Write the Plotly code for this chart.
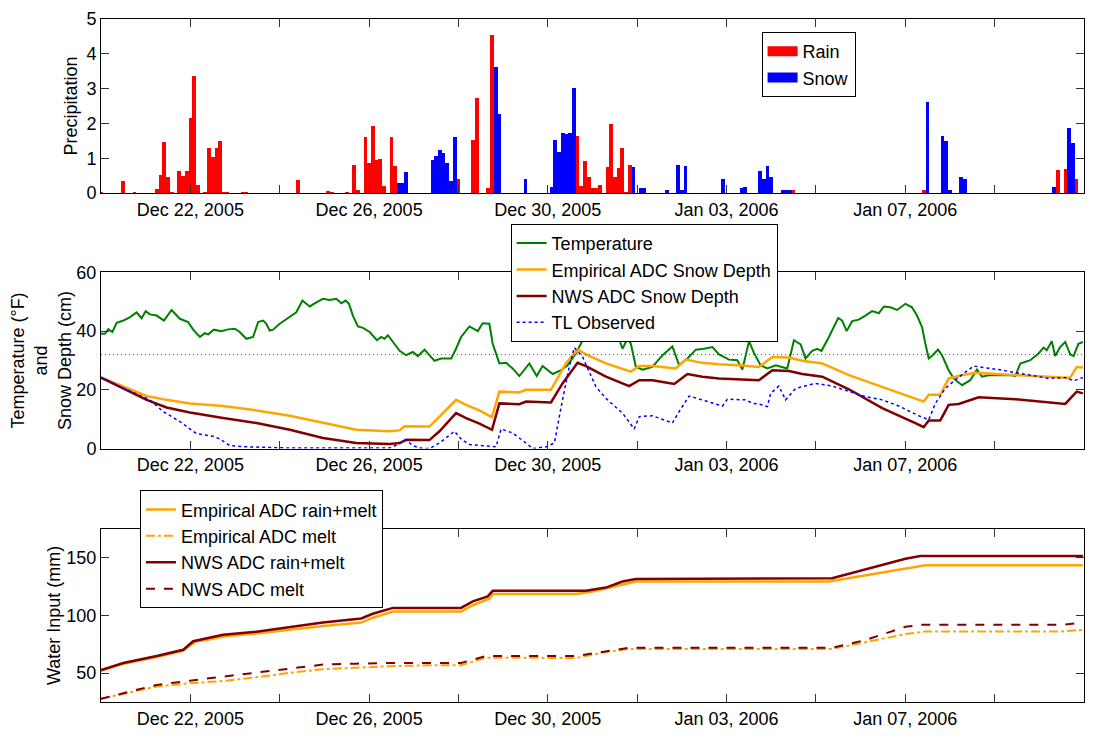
import pandas as pd
import plotly.graph_objects as go
from plotly.subplots import make_subplots

# ---------------- data ----------------
START = pd.Timestamp("2005-12-20 00:00")
END = pd.Timestamp("2006-01-11 00:00")
STEP_H = 2  # precipitation time step (hours)

# precipitation: index of 2-hour step since START and amount
rain_idx = [0, 6, 9, 15, 16, 17, 18, 19, 21, 22, 23, 24, 25, 26, 28, 29, 30, 31, 32, 33, 34, 38, 39,
            53, 61, 62, 66, 68, 69, 71, 72, 73, 74, 75, 76, 78, 79, 96, 100, 101, 104, 105,
            128, 129, 130, 131, 132, 133, 134, 136, 137, 138, 139, 140, 141, 142, 186, 221, 257, 259, 262]
rain_val = [0.03, 0.35, 0.03, 0.11, 0.52, 1.47, 0.45, 0.02, 0.63, 0.48, 0.65, 2.17, 3.35, 0.23, 0.02, 1.30, 1.04, 1.30, 1.50, 0.02, 0.02, 0.02, 0.02,
            0.37, 0.05, 0.02, 0.03, 0.82, 0.08, 1.61, 0.88, 1.92, 0.95, 0.98, 0.20, 1.61, 0.77, 0.41, 1.52, 2.74, 0.16, 4.54,
            1.63, 0.21, 0.91, 0.45, 0.15, 0.15, 0.23, 0.74, 2.00, 0.45, 0.71, 1.30, 0.04, 0.80, 0.09, 0.09, 0.66, 0.68, 0.41]
snow_idx = [80, 81, 82, 89, 90, 91, 92, 93, 94, 95, 106, 107, 114, 121, 122, 123, 124, 125, 126, 127,
            143, 145, 146, 152, 155, 156, 157, 167, 172, 173, 177, 178, 179, 180, 183, 184, 185,
            222, 226, 227, 228, 231, 232, 256, 260, 261]
snow_val = [0.28, 0.28, 0.60, 0.94, 1.07, 1.25, 1.15, 0.87, 0.35, 1.61, 3.61, 2.28, 0.40, 0.17, 1.52, 1.19, 1.72, 1.70, 1.72, 3.01,
            0.76, 0.15, 0.15, 0.09, 0.82, 0.09, 0.77, 0.41, 0.15, 0.17, 0.63, 0.41, 0.77, 0.45, 0.09, 0.09, 0.09,
            2.62, 1.64, 1.50, 0.09, 0.46, 0.42, 0.17, 1.87, 1.45]

# temperature (hours since START, deg F)
temp_h = [0, 2.1, 3.9, 6.1, 8.4, 12.0, 15.6, 19.1, 21.8, 24.0, 26.3, 29.9, 33.8, 37.9, 42.4, 46.8, 49.5, 53.1, 55.8, 57.6,
          60.6, 64.7, 68.3, 71.9, 74.5, 78.1, 81.7, 84.4, 87.1, 88.8, 90.6, 92.4, 96.0, 101.4, 104.9, 108.2, 112.1, 115.7,
          119.2, 122.8, 126.4, 129.1, 131.4, 133.2, 135.3, 138.0, 140.7, 144.3, 148.2, 150.5, 152.3, 154.1, 157.7, 160.4,
          163.9, 167.5, 170.2, 173.8, 176.4, 179.1, 182.7, 188.1, 190.7, 193.4, 197.9, 202.4, 205.0, 208.6, 210.4, 214.0,
          217.6, 221.1, 224.7, 230.1, 234.0, 237.2, 242.6, 247.1, 250.6, 255.1, 258.7, 264.0, 268.5, 273.0, 278.3, 280.1,
          282.8, 284.6, 287.3, 290.9, 296.2, 301.6, 306.9, 310.5, 315.0, 319.5, 323.9, 328.4, 332.0, 337.3, 341.8, 344.5,
          348.1, 350.7, 354.3, 357.9, 362.4, 365.9, 368.6, 372.2, 375.8, 378.4, 382.0, 384.7, 387.0, 391.0, 396.0, 398.1,
          400.5, 403.5, 407.0, 410.6, 414.2, 417.8, 420.5, 424.0, 427.6, 432.1, 435.6, 438.3, 441.0, 442.8, 444.6, 446.7,
          449.6, 451.7, 455.3, 458.0, 462.5, 466.9, 470.5, 473.2, 476.8, 482.1, 489.3, 491.1, 493.8, 499.1, 503.6, 506.3,
          508.0, 510.7, 512.5, 515.2, 517.9, 520.6, 522.4, 525.0, 527.4]
temp_f = [39.1, 39.1, 40.7, 39.7, 42.8, 43.6, 44.8, 46.4, 44.4, 46.8, 45.7, 45.3, 43.6, 47.2, 44.2, 43.1, 40.5, 38.0, 39.3, 38.9,
          40.5, 40.0, 40.6, 40.8, 39.7, 37.4, 38.0, 43.1, 43.6, 42.5, 40.2, 40.5, 42.5, 44.8, 46.4, 50.4, 48.4, 49.8,
          51.0, 50.6, 51.0, 49.5, 50.4, 49.3, 45.3, 41.6, 41.1, 39.7, 36.9, 38.0, 37.4, 38.6, 35.5, 33.3,
          31.8, 32.9, 31.5, 33.7, 31.8, 29.9, 30.7, 30.7, 34.0, 38.0, 41.6, 40.0, 42.7, 42.5, 35.7, 29.0,
          29.2, 27.3, 24.7, 29.0, 24.7, 28.1, 25.4, 26.7, 28.4, 32.4, 36.9, 37.4, 39.1, 38.0, 37.4, 34.0,
          37.4, 35.7, 27.8, 26.9, 27.8, 31.8, 34.8, 28.4, 30.7, 33.7, 34.0, 34.6, 32.1, 30.3, 30.1, 26.9,
          36.6, 32.6, 28.4, 27.3, 28.4, 27.8, 27.3, 36.9, 35.5, 30.7, 33.3, 34.0, 33.3, 38.0, 44.5, 43.6,
          40.0, 43.4, 43.9, 45.3, 46.8, 46.1, 48.4, 48.1, 47.2, 49.3, 48.1, 45.3, 41.4, 35.7, 30.7, 31.8,
          33.7, 31.8, 26.7, 23.9, 21.6, 23.3, 26.9, 24.5, 25.0, 25.0, 25.0, 24.7, 29.0, 30.1, 32.4, 34.4,
          33.5, 36.6, 31.5, 34.6, 36.3, 32.1, 31.5, 35.7, 36.3]
FREEZING_F = 32

# snow depth (cm)
emp_sd_h = [0, 12.0, 24.5, 35.2, 47.7, 65.6, 83.5, 101.4, 119.2, 137.1, 155.0, 160.4, 163.0, 176.4, 181.8, 190.7, 196.1,
            203.3, 210.0, 214.0, 224.7, 228.3, 241.7, 249.7, 256.0, 260.5, 271.2, 284.6, 289.1, 296.2, 308.7, 314.1,
            323.0, 332.0, 342.7, 353.4, 360.6, 369.5, 376.7, 387.4, 401.7, 419.6, 437.4, 441.9, 444.6, 450.8, 455.3,
            462.5, 469.6, 491.1, 517.9, 520.6, 524.1, 527.4]
emp_sd = [24.2, 21.1, 17.9, 16.6, 15.4, 14.5, 13.0, 11.2, 8.7, 6.4, 5.9, 6.2, 7.6, 7.5, 10.9, 16.6, 14.9,
          13.0, 10.7, 19.4, 19.1, 20.0, 20.0, 29.0, 33.7, 32.1, 29.0, 26.2, 28.1, 28.1, 27.3, 30.3,
          29.2, 28.7, 28.4, 27.8, 31.2, 31.0, 29.9, 29.0, 25.0, 20.9, 16.8, 16.0, 18.3, 18.3, 23.9,
          25.0, 25.8, 25.0, 24.1, 24.2, 27.8, 27.6]
nws_sd_h = [0, 12.0, 24.5, 35.2, 47.7, 65.6, 83.5, 101.4, 119.2, 137.1, 155.0, 160.4, 163.9, 176.4, 181.8, 190.7, 196.1,
            203.3, 210.0, 214.0, 224.7, 228.3, 241.7, 247.9, 256.0, 260.5, 271.2, 283.7, 289.1, 296.2, 307.9, 315.0,
            323.0, 332.0, 342.7, 353.4, 360.6, 369.5, 376.7, 387.4, 401.7, 419.6, 437.4, 441.9, 444.6, 450.8, 455.3,
            460.7, 471.4, 491.1, 517.9, 524.1, 527.4]
nws_sd = [24.2, 20.5, 16.6, 14.0, 12.3, 10.4, 8.7, 6.4, 3.6, 1.9, 1.6, 1.9, 3.0, 2.9, 5.9, 12.1, 10.4,
          8.5, 6.4, 15.4, 15.1, 16.0, 15.7, 22.2, 29.2, 28.1, 24.5, 21.3, 23.3, 23.3, 22.0, 25.4,
          24.5, 23.9, 23.7, 23.3, 26.7, 26.4, 25.4, 24.5, 20.2, 13.8, 8.7, 7.3, 9.6, 9.6, 14.9,
          15.2, 17.5, 16.8, 15.2, 19.4, 18.8]
tl_h = [0, 12.0, 26.3, 33.4, 42.4, 51.3, 60.3, 63.8, 69.2, 78.1, 101.4, 155.0, 160.0, 163.9, 167.5, 171.1, 176.4, 181.8,
        189.9, 193.4, 197.9, 212.2, 214.9, 221.1, 228.3, 231.9, 239.0, 243.5, 247.9, 251.5, 254.2, 258.7, 265.8, 271.2,
        280.1, 286.4, 289.1, 296.2, 306.9, 310.5, 315.9, 323.0, 333.8, 336.4, 346.3, 350.0, 353.4, 357.9, 359.7, 364.1,
        367.7, 373.1, 383.8, 392.7, 401.7, 410.6, 419.6, 428.5, 439.2, 444.6, 448.2, 453.5, 459.8, 468.7, 482.1, 500.0,
        508.9, 517.9, 522.4, 527.4]
tl_sd = [24.2, 20.5, 16.6, 12.6, 9.2, 5.1, 4.2, 3.3, 1.0, 0.6, 0.2, 0.2, 1.5, 3.0, 1.0, 0.2, 0.0, 1.9,
         5.9, 3.3, 1.4, 0.6, 6.7, 5.3, 1.9, 0.0, 0.6, 1.9, 16.6, 27.8, 34.4, 31.2, 21.1, 17.1,
         12.1, 6.7, 10.9, 11.2, 8.7, 12.6, 17.9, 16.6, 14.5, 16.8, 16.6, 15.4, 15.2, 14.3, 18.8, 21.3,
         16.6, 20.5, 22.2, 21.3, 19.4, 17.7, 16.6, 14.5, 11.2, 9.8, 15.4, 20.5, 23.9, 28.1, 26.9, 25.0,
         23.9, 24.2, 23.1, 24.2]

# water input (mm)
emp_rm_h = [0, 12.0, 29.9, 44.2, 47.7, 51.3, 56.7, 65.6, 83.5, 101.4, 119.2, 139.8, 146.0, 156.8, 193.4, 199.7, 208.6,
            210.4, 255.1, 264.0, 278.3, 287.3, 391.0, 439.2, 442.8, 527.4]
emp_rm = [52.0, 58.2, 63.9, 69.6, 73.9, 77.6, 78.7, 81.8, 84.4, 87.5, 90.9, 93.8, 98.0, 103.4, 103.4, 108.8, 114.5,
          118.5, 118.5, 120.7, 125.9, 129.3, 129.3, 142.0, 143.5, 143.5]
nws_rm_h = [0, 12.0, 29.9, 44.2, 49.5, 65.6, 83.5, 101.4, 119.2, 139.8, 146.0, 156.8, 193.4, 199.7, 207.7, 210.4, 260.5,
            271.2, 280.1, 287.3, 383.8, 392.7, 432.1, 440.1, 527.4]
nws_rm = [52.6, 58.8, 64.8, 70.2, 77.6, 83.2, 85.8, 89.5, 93.8, 97.4, 101.4, 106.5, 106.5, 112.2, 116.5, 121.3, 121.3,
          124.1, 129.3, 131.5, 131.5, 132.1, 149.1, 151.5, 151.5]
emp_m_h = [0, 12.0, 29.9, 47.7, 65.6, 83.5, 101.4, 119.2, 137.1, 155.0, 176.4, 193.4, 206.8, 255.1, 271.2, 283.7, 392.7,
           410.6, 432.1, 442.8, 516.1, 527.4]
emp_m = [27.8, 32.1, 38.4, 41.2, 43.2, 46.4, 50.3, 53.4, 54.8, 56.0, 56.8, 56.8, 63.4, 63.1, 68.2, 71.0, 71.0,
         76.7, 83.8, 86.1, 86.1, 87.5]
nws_m_h = [0, 12.0, 29.9, 47.7, 65.6, 83.5, 101.4, 119.2, 137.1, 155.0, 193.4, 206.8, 255.1, 271.2, 283.7, 392.7, 410.6,
           432.1, 441.0, 516.1, 527.4]
nws_m = [27.8, 32.7, 39.8, 43.5, 46.9, 50.3, 54.0, 57.4, 58.2, 58.8, 58.8, 64.8, 64.8, 69.0, 71.9, 71.9, 78.7,
         90.1, 91.8, 91.8, 93.8]

# x ticks every 2 days, labelled every 4 days
tick_dates = pd.date_range(START, END, freq="2D")
label_dates = set(pd.date_range("2005-12-22", END, freq="4D"))
tick_text = [d.strftime("%b %d, %Y") if d in label_dates else "" for d in tick_dates]

# ---------------- helpers ----------------
def hrs(h):
    return START + pd.to_timedelta(h, unit="h")

def steps(i):
    return START + pd.to_timedelta([k * STEP_H for k in i], unit="h")

FONT = "Liberation Sans, Arial, Helvetica, sans-serif"
FS = 18
GREEN = "#008000"
ORANGE = "#FFA500"
MAROON = "#800000"
BLUE = "#0000FF"
RED = "#FF0000"

fig = make_subplots(rows=3, cols=1)

bar_w = STEP_H * 3600 * 1000
fig.add_trace(go.Bar(x=steps(rain_idx), y=rain_val, width=bar_w, marker=dict(color=RED, line_width=0),
                     name="Rain", showlegend=False), row=1, col=1)
fig.add_trace(go.Bar(x=steps(snow_idx), y=snow_val, width=bar_w, marker=dict(color=BLUE, line_width=0),
                     name="Snow", showlegend=False), row=1, col=1)
# legend proxies (wide swatches)
fig.add_trace(go.Scatter(x=[None], y=[None], mode="lines", line=dict(color=RED, width=16), name="Rain",
                         legend="legend"), row=1, col=1)
fig.add_trace(go.Scatter(x=[None], y=[None], mode="lines", line=dict(color=BLUE, width=16), name="Snow",
                         legend="legend"), row=1, col=1)

fig.add_trace(go.Scatter(x=hrs(temp_h), y=temp_f, mode="lines", line=dict(color=GREEN, width=2),
                         name="Temperature", legend="legend2"), row=2, col=1)
fig.add_trace(go.Scatter(x=hrs(emp_sd_h), y=emp_sd, mode="lines", line=dict(color=ORANGE, width=2.5),
                         name="Empirical ADC Snow Depth", legend="legend2"), row=2, col=1)
fig.add_trace(go.Scatter(x=hrs(nws_sd_h), y=nws_sd, mode="lines", line=dict(color=MAROON, width=2.5),
                         name="NWS ADC Snow Depth", legend="legend2"), row=2, col=1)
fig.add_trace(go.Scatter(x=hrs(tl_h), y=tl_sd, mode="lines", line=dict(color=BLUE, width=1.5, dash="dot"),
                         name="TL Observed", legend="legend2"), row=2, col=1)
fig.add_hline(y=FREEZING_F, line=dict(color="#555555", width=1, dash="1px,3px"), row=2, col=1)

fig.add_trace(go.Scatter(x=hrs(emp_rm_h), y=emp_rm, mode="lines", line=dict(color=ORANGE, width=2.5),
                         name="Empirical ADC rain+melt", legend="legend3"), row=3, col=1)
fig.add_trace(go.Scatter(x=hrs(emp_m_h), y=emp_m, mode="lines", line=dict(color=ORANGE, width=2, dash="dashdot"),
                         name="Empirical ADC melt", legend="legend3"), row=3, col=1)
fig.add_trace(go.Scatter(x=hrs(nws_rm_h), y=nws_rm, mode="lines", line=dict(color=MAROON, width=2.5),
                         name="NWS ADC rain+melt", legend="legend3"), row=3, col=1)
fig.add_trace(go.Scatter(x=hrs(nws_m_h), y=nws_m, mode="lines", line=dict(color=MAROON, width=2, dash="dash"),
                         name="NWS ADC melt", legend="legend3"), row=3, col=1)

axis_common = dict(showline=True, linecolor="black", linewidth=1, mirror="ticks", ticks="inside",
                   ticklen=8, tickcolor="#333333", showgrid=False, zeroline=False,
                   tickfont=dict(family=FONT, size=FS, color="black"))

for r, dom in zip([1, 2, 3], [[0.745, 1.0], [0.371, 0.629], [0.0, 0.2536]]):
    fig.update_xaxes(type="date", range=[START, END], tickvals=tick_dates, ticktext=tick_text,
                     row=r, col=1, **axis_common)
    fig.update_yaxes(domain=dom, row=r, col=1, **axis_common)

fig.update_yaxes(range=[0, 5], dtick=1, title=dict(text="Precipitation", standoff=4,
                 font=dict(family=FONT, size=FS, color="black")), row=1, col=1)
fig.update_yaxes(range=[0, 60], tickvals=[0, 20, 40, 60],
                 title=dict(text="Temperature (°F)<br>and<br>Snow Depth (cm)", standoff=0,
                            font=dict(family=FONT, size=FS, color="black")), row=2, col=1)
fig.update_yaxes(range=[25, 175], tickvals=[50, 100, 150],
                 title=dict(text="Water Input (mm)", standoff=1,
                            font=dict(family=FONT, size=FS, color="black")), row=3, col=1)

leg_common = dict(bgcolor="white", bordercolor="black", borderwidth=1,
                  font=dict(family=FONT, size=FS, color="black"), xanchor="left", yanchor="top",
                  tracegroupgap=0)
fig.update_layout(
    width=1094, height=740,
    margin=dict(l=101, r=9, t=12, b=38),
    plot_bgcolor="white", paper_bgcolor="white",
    barmode="overlay", bargap=0,
    font=dict(family=FONT, size=FS, color="black"),
    legend=dict(x=0.672, y=0.981, **leg_common),
    legend2=dict(x=0.4167, y=0.700, **leg_common),
    legend3=dict(x=0.0396, y=0.310, **leg_common),
)

fig.write_html("out.html")
